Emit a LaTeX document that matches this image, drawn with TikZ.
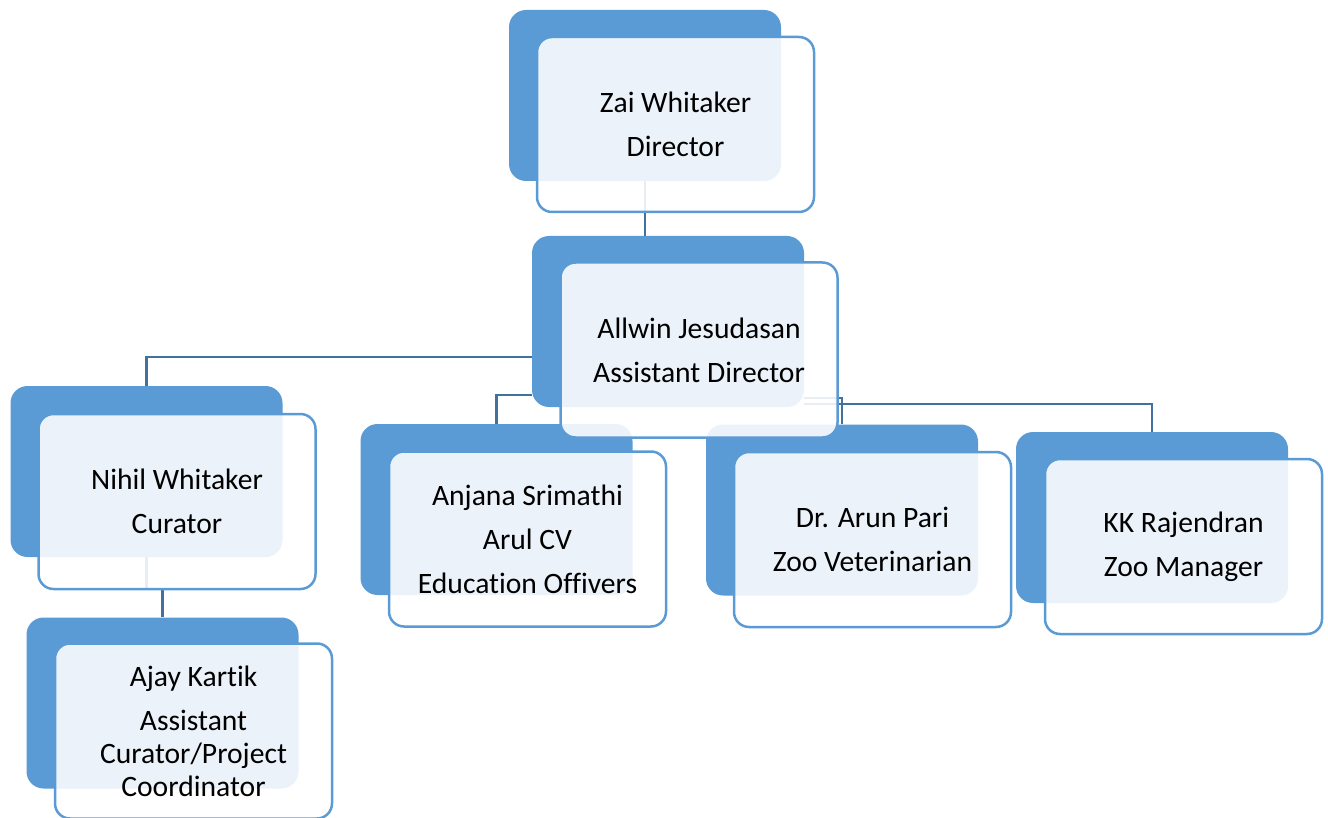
\documentclass[tikz,border=0pt]{standalone}
\usepackage{fontspec}
\setmainfont{Carlito}[RawFeature=-liga]
\definecolor{backblue}{HTML}{5B9BD5}
\definecolor{linkblue}{HTML}{41719C}
\begin{document}
\begin{tikzpicture}[x=1pt,y=-1pt,
  backbox/.style={rectangle,rounded corners=17pt,fill=backblue,draw=none,
    minimum width=272pt,minimum height=171pt,inner sep=0pt},
  frontbox/.style={rectangle,rounded corners=15pt,fill=white,fill opacity=0.88,text opacity=1,
    draw=backblue,draw opacity=1,line width=2.5pt,minimum width=277pt,minimum height=175pt,
    inner sep=0pt,align=center,font=\fontsize{29.6}{44}\selectfont},
  link/.style={draw=linkblue,line width=2.5pt}]
\useasboundingbox (0,0) rectangle (1328,818);
% back boxes
\node[backbox] (zaiB) at (645,95.5) {};
\node[backbox] (allwinB) at (668,321.5) {};
\node[backbox] (nihilB) at (146.5,471.5) {};
\node[backbox] (ajayB) at (162.5,703) {};
\node[backbox] (anjanaB) at (496.5,509.5) {};
\node[backbox] (arunB) at (842,510) {};
\node[backbox] (kkB) at (1152,517.5) {};
% connectors
\draw[link] (zaiB.south) -- (zaiB.south |- allwinB.north);
\draw[link] ([yshift=-35.5pt]allwinB.west) -| (nihilB.north);
\draw[link] ([yshift=-73.5pt]allwinB.west) -| (anjanaB.north);
\draw[link] ([yshift=-76.5pt]allwinB.east) -| (arunB.north);
\draw[link] ([yshift=-82.5pt]allwinB.east) -| (kkB.north);
\draw[link] (nihilB.south) -- ++(0,32) -| (ajayB.north);
% front boxes
\node[frontbox] (zai) at (675.5,124.5) {Zai Whitaker\\Director};
\node[frontbox] (allwin) at (699,350) {Allwin Jesudasan\\Assistant Director};
\node[frontbox] (nihil) at (177,501.5) {Nihil Whitaker\\Curator};
\node[frontbox,font=\fontsize{29.6}{33}\selectfont] (ajay) at (193.5,731) {Ajay Kartik\\[11pt]Assistant\\Curator/Project\\Coordinator};
\node[frontbox] (anjana) at (527.5,539) {Anjana Srimathi\\Arul CV\\Education Offivers};
\node[frontbox] (arun) at (872.5,539.5) {Dr. Arun Pari\\Zoo Veterinarian};
\node[frontbox] (kk) at (1183.5,546.5) {KK Rajendran\\Zoo Manager};
\end{tikzpicture}
\end{document}
